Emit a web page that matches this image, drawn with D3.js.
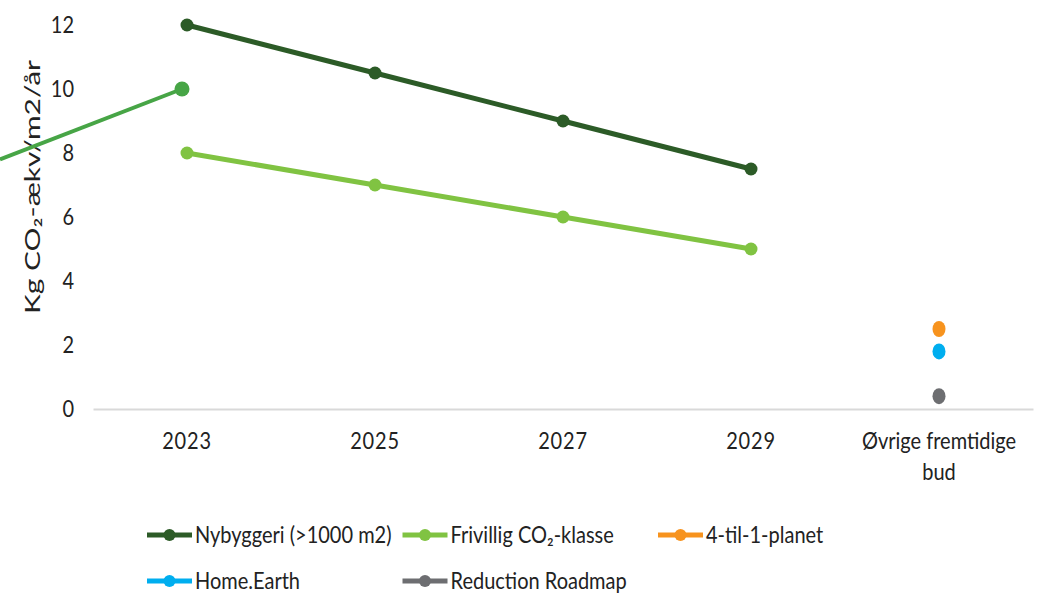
<!DOCTYPE html>
<html>
<head>
<meta charset="utf-8">
<script src="https://cdn.jsdelivr.net/npm/d3@7"></script>
<style>
  html, body { margin: 0; padding: 0; background: #fff; }
  svg { display: block; }
  text { font-family: Lato, "Open Sans", sans-serif; fill: #222; }
</style>
</head>
<body>
<svg id="chart" width="1038" height="596"></svg>
<script>
// Categories on the x axis
const categories = ["2023", "2025", "2027", "2029", "Øvrige fremtidige bud"];
const years = ["2023", "2025", "2027", "2029"];
const otherCategory = "Øvrige fremtidige bud";

// Limit values (kg CO2-eq per m2 per year)
const nybyggeri = [12, 10.5, 9, 7.5];
const frivillig = [8, 7, 6, 5];

// Single values for future bids
const tilPlanet = [2.5];
const homeEarth = [1.8];
const reductionRoadmap = [0.4];

const yTicks = [0, 2, 4, 6, 8, 10, 12];

// Callout pointer values (end point sits near 2023, value 10)
const calloutFrom = 7.8;
const calloutTo = 10;

const colors = {
  nyb: "#2c5b27",
  fri: "#80c342",
  planet: "#f7931e",
  home: "#00aeef",
  road: "#6d6e71",
  callout: "#47a546"
};

const svg = d3.select("#chart");

const x = d3.scaleBand().domain(categories).range([93, 1033]).paddingInner(0).paddingOuter(0);
const y = d3.scaleLinear().domain([0, 12]).range([409, 25]);
const cx = c => x(c) + x.bandwidth() / 2;

const STRETCH = 1.15;
const FS = 20;

// Baseline axis
const xAxis = d3.axisBottom(x).tickSize(0).tickFormat("");
const gx = svg.append("g").attr("transform", `translate(0,${y(0)})`).call(xAxis);
gx.select(".domain").attr("stroke", "#d9d9d9").attr("stroke-width", 2);

// X labels (wrapped)
categories.forEach(c => {
  const lines = c === otherCategory ? ["Øvrige fremtidige", "bud"] : [c];
  lines.forEach((ln, i) => {
    svg.append("g")
      .attr("transform", `translate(${cx(c)},${y(0) + 40 + i * 31}) scale(1,${STRETCH})`)
      .append("text")
      .attr("text-anchor", "middle")
      .attr("font-size", FS)
      .attr("letter-spacing", c === otherCategory ? 0 : 0.8)
      .text(ln);
  });
});

// Y axis labels
const yAxis = d3.axisLeft(y).tickValues(yTicks).tickSize(0).tickPadding(0).tickFormat(d3.format("d"));
const gy = svg.append("g").attr("transform", "translate(74,0)").call(yAxis);
gy.select(".domain").remove();
gy.selectAll(".tick text")
  .attr("font-family", "Lato, sans-serif")
  .attr("font-size", FS)
  .attr("fill", "#222")
  .attr("transform", `scale(1,${STRETCH})`)
  .attr("dy", (0.36 / STRETCH) + "em");

// Y axis title
svg.append("text")
  .attr("transform", "translate(40,187) rotate(-90)")
  .attr("text-anchor", "middle")
  .attr("font-family", "Liberation Sans, Arial, sans-serif")
  .attr("font-size", 21)
  .attr("textLength", 254)
  .attr("lengthAdjust", "spacingAndGlyphs")
  .attr("fill", "#2a2a2a")
  .text("Kg CO₂-ækv/m2/år");

// Lines
const line = d3.line().x(d => cx(d.c)).y(d => y(d.v));
function drawSeries(vals, color) {
  const data = years.map((c, i) => ({ c, v: vals[i] }));
  svg.append("path").datum(data)
    .attr("d", line)
    .attr("fill", "none")
    .attr("stroke", color)
    .attr("stroke-width", 5)
    .attr("stroke-linecap", "round");
  svg.selectAll(null).data(data).enter().append("circle")
    .attr("cx", d => cx(d.c)).attr("cy", d => y(d.v))
    .attr("r", 6.5).attr("fill", color);
}
drawSeries(frivillig, colors.fri);
drawSeries(nybyggeri, colors.nyb);

// Future bid points
[[tilPlanet, colors.planet], [homeEarth, colors.home], [reductionRoadmap, colors.road]].forEach(([vals, col]) => {
  svg.selectAll(null).data(vals).enter().append("ellipse")
    .attr("cx", cx(otherCategory)).attr("cy", d => y(d))
    .attr("rx", 6.5).attr("ry", 8).attr("fill", col);
});

// Callout pointer
const cEndX = cx("2023") - 5;
const cEndY = y(calloutTo);
const cStartY = y(calloutFrom);
svg.append("line")
  .attr("x1", 0).attr("y1", cStartY)
  .attr("x2", cEndX).attr("y2", cEndY)
  .attr("stroke", colors.callout).attr("stroke-width", 4);
svg.append("circle").attr("cx", cEndX).attr("cy", cEndY).attr("r", 7.5).attr("fill", colors.callout);

// Legend
const legendItems = [
  { label: "Nybyggeri (>1000 m2)", color: colors.nyb, col: 0, row: 0 },
  { label: "Frivillig CO₂-klasse", color: colors.fri, col: 1, row: 0 },
  { label: "4-til-1-planet", color: colors.planet, col: 2, row: 0 },
  { label: "Home.Earth", color: colors.home, col: 0, row: 1 },
  { label: "Reduction Roadmap", color: colors.road, col: 1, row: 1 }
];
const lg = svg.append("g");
legendItems.forEach(it => {
  const gx0 = 147 + it.col * 255.5;
  const gy0 = 535 + it.row * 46;
  const g = lg.append("g").attr("transform", `translate(${gx0},${gy0})`);
  g.append("line").attr("x1", 0).attr("x2", 45).attr("y1", 0).attr("y2", 0)
    .attr("stroke", it.color).attr("stroke-width", 5);
  g.append("circle").attr("cx", 22.5).attr("cy", 0).attr("r", 6).attr("fill", it.color);
  g.append("g").attr("transform", `translate(48,7.5) scale(1,${STRETCH})`)
    .append("text").attr("font-size", FS).text(it.label);
});
</script>
</body>
</html>
